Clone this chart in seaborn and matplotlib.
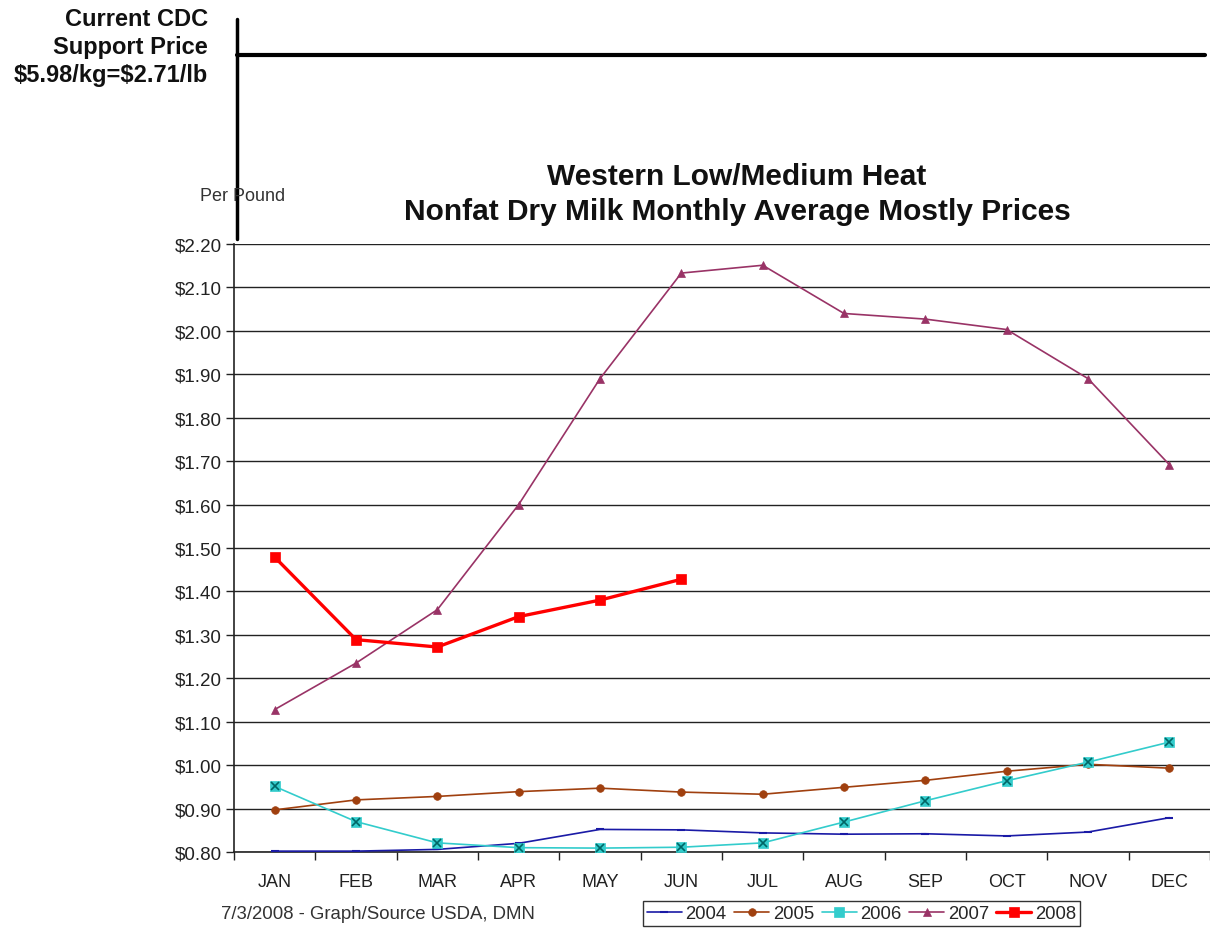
import numpy as np
import pandas as pd
import matplotlib
matplotlib.use('Agg')
import matplotlib.pyplot as plt
from matplotlib.lines import Line2D
import seaborn as sns

# Dados (US$/lb)
months = ['JAN', 'FEB', 'MAR', 'APR', 'MAY', 'JUN', 'JUL', 'AUG', 'SEP', 'OCT', 'NOV', 'DEC']
p2004 = [0.802, 0.802, 0.806, 0.820, 0.852, 0.851, 0.844, 0.841, 0.842, 0.837, 0.846, 0.879]
p2005 = [0.897, 0.920, 0.928, 0.939, 0.947, 0.938, 0.933, 0.949, 0.965, 0.986, 1.002, 0.993]
p2006 = [0.951, 0.870, 0.821, 0.810, 0.809, 0.811, 0.821, 0.869, 0.918, 0.964, 1.007, 1.053]
p2007 = [1.128, 1.235, 1.358, 1.600, 1.890, 2.133, 2.151, 2.040, 2.027, 2.003, 1.890, 1.692]
p2008 = [1.479, 1.289, 1.272, 1.342, 1.380, 1.428]
years = ['2004', '2005', '2006', '2007', '2008']
support_price = 2.71

series = {'2004': p2004, '2005': p2005, '2006': p2006, '2007': p2007, '2008': p2008}
rows = []
for yr, vals in series.items():
    for i, v in enumerate(vals):
        rows.append({'Year': yr, 'Month': i, 'Price': v})
data = pd.DataFrame(rows)

sns.set_theme(style='white')
plt.rcParams['font.family'] = ['Liberation Sans', 'DejaVu Sans']

styles = {
    '2004': dict(color='#1a1aa6', marker='_', ms=6, mew=1.5, lw=1.2),
    '2005': dict(color='#a0400f', marker='o', ms=5.5, mew=0.5, lw=1.2),
    '2006': dict(color='#33cccc', marker='s', ms=6.5, mew=0.5, lw=1.2),
    '2007': dict(color='#993366', marker='^', ms=5.5, mew=0.5, lw=1.2),
    '2008': dict(color='#ff0000', marker='s', ms=7.5, mew=0.5, lw=2.4),
}

fig = plt.figure(figsize=(12.1, 9.29), dpi=100)
ax = fig.add_axes([0.1934, 0.0818, 0.8066, 0.6545])

for yr in years:
    st = styles[yr]
    sub = data[data['Year'] == yr]
    sns.lineplot(x='Month', y='Price', data=sub, ax=ax, color=st['color'],
                 linewidth=st['lw'], marker=st['marker'], markersize=st['ms'],
                 markeredgecolor=st['color'], markeredgewidth=st['mew'],
                 legend=False, zorder=3)
    if yr == '2006':
        ax.plot(sub['Month'], sub['Price'], linestyle='none', marker='x',
                ms=5.5, mew=1.2, color='#006666', zorder=4)

ax.set_xlim(-0.5, 11.5)
ax.set_ylim(0.80, 2.20)
ax.set_yticks(np.arange(0.80, 2.21, 0.10))
ax.set_yticklabels([f'${v:.2f}' for v in np.arange(0.80, 2.21, 0.10)], fontsize=13.5, color='#222222')
ax.set_xticks(range(12))
ax.set_xticklabels(months, fontsize=13, color='#222222')
ax.set_xticks(np.arange(-0.5, 12, 1), minor=True)
ax.tick_params(axis='x', which='major', length=0, pad=15)
ax.tick_params(axis='x', which='minor', length=6, width=1, color='#222222', direction='out', bottom=True)
ax.tick_params(axis='y', length=6, width=1, color='#222222', direction='out', left=True, pad=3)
ax.yaxis.grid(True, color='#222222', linewidth=1)
ax.set_axisbelow(True)
for s in ['top', 'right']:
    ax.spines[s].set_visible(False)
for s in ['left', 'bottom']:
    ax.spines[s].set_color('#222222')
    ax.spines[s].set_linewidth(1.2)
ax.set_xlabel('')
ax.set_ylabel('')

# Titulo
fig.text(0.609, 0.810, 'Western Low/Medium Heat', ha='center', va='center',
         fontsize=21.5, fontweight='bold', color='#111111')
fig.text(0.609, 0.772, 'Nonfat Dry Milk Monthly Average Mostly Prices', ha='center', va='center',
         fontsize=21.5, fontweight='bold', color='#111111')
fig.text(0.165, 0.788, 'Per Pound', ha='left', va='center', fontsize=13, color='#333333')
fig.text(0.183, 0.016, '7/3/2008 - Graph/Source USDA, DMN', ha='left', va='center',
         fontsize=13.4, color='#333333')

# Preco de suporte CDC
fig.text(0.172, 0.949, 'Current CDC\nSupport Price\n$5.98/kg=$' + f'{support_price:.2f}' + '/lb',
         ha='right', va='center', fontsize=17, fontweight='bold', linespacing=1.27,
         color='#111111', parse_math=False)
fig.add_artist(Line2D([0.1955, 0.1955], [0.742, 0.979], color='black', lw=2.5))
fig.add_artist(Line2D([0.1955, 0.996], [0.94, 0.94], color='black', lw=3))

# Legenda
handles = []
for yr in years:
    st = styles[yr]
    handles.append(Line2D([0], [0], color=st['color'], lw=st['lw'], marker=st['marker'],
                          ms=st['ms'], mec=st['color'], mew=st['mew']))
leg = fig.legend(handles, years, loc='center', bbox_to_anchor=(0.712, 0.0155), ncol=5,
                 fontsize=13.3, frameon=True, fancybox=False, edgecolor='black',
                 handlelength=1.9, handletextpad=0.2, columnspacing=0.4, borderpad=0.2)
leg.get_frame().set_linewidth(1)

fig.savefig('out.png', dpi=100)
